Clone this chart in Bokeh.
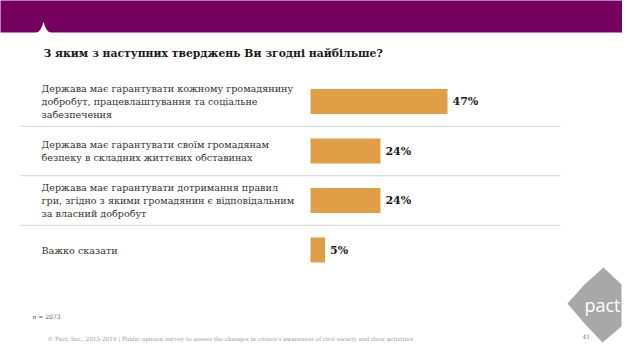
import numpy as np
from bokeh.plotting import figure
from bokeh.models import Range1d
from bokeh.core.properties import value
from bokeh.embed import file_html
from bokeh.resources import INLINE

# ---- data ----
title = "З яким з наступних тверджень Ви згодні найбільше?"
categories = [
    "Держава має гарантувати кожному громадянину\nдобробут, працевлаштування та соціальне\nзабезпечення",
    "Держава має гарантувати своїм громадянам\nбезпеку в складних життєвих обставинах",
    "Держава має гарантувати дотримання правил\nгри, згідно з якими громадянин є відповідальним\nза власний добробут",
    "Важко сказати",
]
values = [47, 24, 24, 5]
sample_note = "n = 2073"
footer = ("© Pact. Inc., 2015-2019 | Public opinion survey to assess the changes in "
          "citizen's awareness of civil society and their activities")
page_no = "41"

# ---- layout helpers (page pixel -> data units) ----
W, H = 622, 343
S = 137 / 47.0       # px per percent
ROW = 49.5           # px per row
X0, Y0 = 310, 101    # bar origin / first row centre in px


def X(px):
    return (px - X0) / S


def Y(py):
    return (py - Y0) / ROW


p = figure(width=W, height=H, output_backend="svg", toolbar_location=None,
           x_range=Range1d(X(0), X(W)), y_range=Range1d(Y(H), Y(0)),
           min_border=0, outline_line_color=None)
p.axis.visible = False
p.grid.visible = False
p.background_fill_color = "white"
p.border_fill_color = "white"

SERIF = "DejaVu Serif"

# header band
p.quad(left=X(-2), right=X(W + 2), top=Y(-2), bottom=Y(32), fill_color="#760060", line_color=None)
t = np.linspace(0, 1, 30)
nx = np.concatenate([33 + 10 * t, 53 - 10 * t[::-1]])
ny = np.concatenate([32.5 - 11 * t ** 3, 32.5 - 11 * t[::-1] ** 3])
p.patch([X(v) for v in nx], [Y(v) for v in ny], fill_color="white", line_color=None)

# title
p.text(x=[X(43)], y=[Y(53)], text=[title], text_font=value(SERIF), text_font_style="bold",
       text_font_size="10.8px", text_color="#1a1a1a", text_baseline="middle")

# separators
n = len(categories)
for i in range(n - 1):
    p.segment(x0=X(20), x1=X(560), y0=i + 0.5, y1=i + 0.5, line_color="#d4d4d4", line_width=1)

# bars
ys = list(range(n))
p.hbar(y=ys, left=0, right=values, height=25 / ROW, fill_color="#E09F45", line_color=None)

# value labels
p.text(x=[v + 5 / S for v in values], y=ys, text=[f"{v}%" for v in values],
       text_font=value(SERIF), text_font_style="bold", text_font_size="11px",
       text_color="#1a1a1a", text_baseline="middle")

# category labels
LINE = 12.8
lx, ly, lt = [], [], []
for i, c in enumerate(categories):
    parts = c.split("\n")
    for j, s in enumerate(parts):
        lx.append(X(41))
        ly.append(i + (j - (len(parts) - 1) / 2) * LINE / ROW)
        lt.append(s)
p.text(x=lx, y=ly, text=lt, text_font=value(SERIF), text_font_size="9.6px",
       text_color="#333333", text_baseline="middle")

# notes
p.text(x=[X(32)], y=[Y(316)], text=[sample_note], text_font=value(SERIF), text_font_size="6px",
       text_color="#555555", text_baseline="middle")
p.text(x=[X(47)], y=[Y(338)], text=[footer], text_font=value(SERIF), text_font_size="5.7px",
       text_color="#9a9a9a", text_baseline="middle")

# logo
lgx = [603, 621, 621, 602, 584, 567, 584]
lgy = [267, 284, 326, 342, 323, 303, 284]
p.patch([X(v) for v in lgx], [Y(v) for v in lgy], fill_color="#a8a8a8", line_color=None)
p.text(x=[X(602)], y=[Y(304)], text=["pact"], text_font=value("Open Sans"), text_font_size="18px",
       text_color="white", text_align="center", text_baseline="middle")
p.text(x=[X(582)], y=[Y(336)], text=[page_no], text_font=value(SERIF), text_font_size="6px",
       text_color="#777777", text_baseline="middle")

open("out.html", "w").write(file_html(p, INLINE))
